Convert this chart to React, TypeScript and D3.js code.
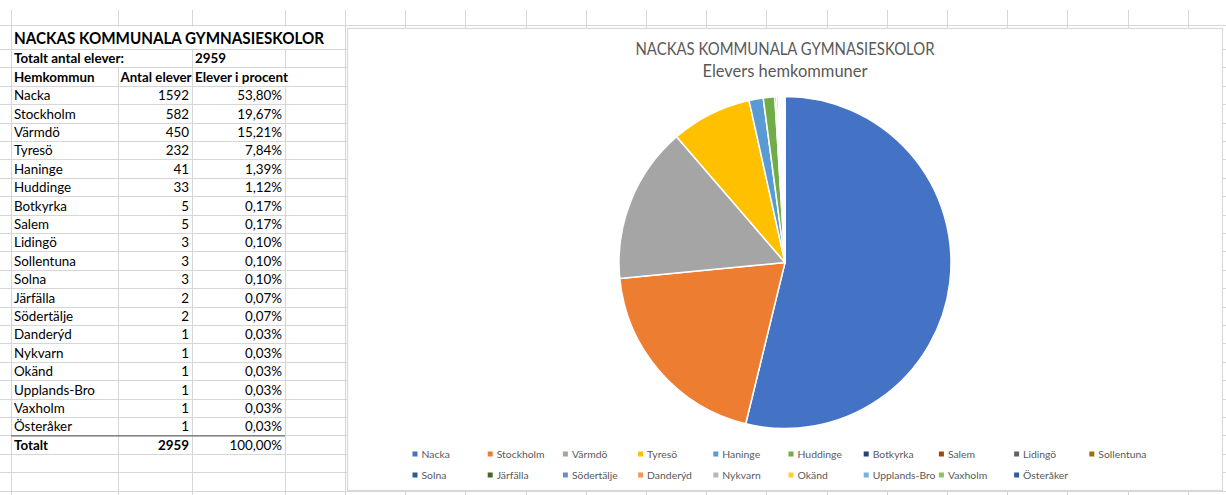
import React from "react";
import * as d3 from "d3";

const kommuner = ["Nacka","Stockholm","Värmdö","Tyresö","Haninge","Huddinge","Botkyrka","Salem","Lidingö","Sollentuna","Solna","Järfälla","Södertälje","Danderýd","Nykvarn","Okänd","Upplands-Bro","Vaxholm","Österåker"];
const antal = [1592,582,450,232,41,33,5,5,3,3,3,2,2,1,1,1,1,1,1];
const procent = ["53,80%","19,67%","15,21%","7,84%","1,39%","1,12%","0,17%","0,17%","0,10%","0,10%","0,10%","0,07%","0,07%","0,03%","0,03%","0,03%","0,03%","0,03%","0,03%"];
const colors = ["#4472C4","#ED7D31","#A5A5A5","#FFC000","#5B9BD5","#70AD47","#264478","#9E480E","#636363","#997300","#255E91","#43682B","#698ED0","#F1975A","#B7B7B7","#FFCD33","#7CAFDD","#8CC168","#335AA1"];
const total = 2959;
const chartTitle = "NACKAS KOMMUNALA GYMNASIESKOLOR";
const chartSubtitle = "Elevers hemkommuner";

const W = 1226, H = 495;
const FONT = "Lato, 'Open Sans', sans-serif";
const GRID = "#d6d6d6";

export default function App() {
  const rowH = 18.4;
  const row0 = 49;
  const rowY = (i: number) => row0 + i * rowH;
  const hLines: number[] = [25];
  for (let y = row0; y < H; y += rowH) hLines.push(y);
  const vLines: number[] = [11, 118, 192, 285, 345];
  for (let x = 345 + 60.2; x < W; x += 60.2) vLines.push(x);

  const hidden = [
    [118, 25, 49], [192, 25, 49], [285, 25, 49],
    [118, 49, rowY(1)],
    [285, rowY(1), rowY(2)],
  ];

  const pie = d3.pie<number>().sort(null).value((d) => d)(antal);
  const R = 166;
  const arc = d3.arc<d3.PieArcDatum<number>>().innerRadius(0).outerRadius(R);
  const cx = 785, cy = 262.5;

  const legX = d3.scaleLinear().domain([0, 1]).range([415, 415 + 75.2]);
  const legY = d3.scaleLinear().domain([0, 1]).range([454, 475]);

  const textRow = (i: number) => rowY(i) + rowH - 4;

  return (
    <svg width={W} height={H} style={{ position: "absolute", left: 0, top: 0, background: "#fff" }} fontFamily={FONT}>
      <rect x={0} y={0} width={W} height={H} fill="#fff" />
      {hLines.map((y, i) => (
        <line key={"h" + i} x1={0} x2={W} y1={Math.round(y) + 0.5} y2={Math.round(y) + 0.5} stroke={GRID} strokeWidth={1} />
      ))}
      {vLines.map((x, i) => (
        <line key={"v" + i} x1={Math.round(x) + 0.5} x2={Math.round(x) + 0.5} y1={10} y2={H} stroke={GRID} strokeWidth={1} />
      ))}
      {hidden.map((s, i) => (
        <rect key={"hid" + i} x={Math.round(s[0]) - 1} y={Math.round(s[1]) + 1.5} width={3} height={Math.round(s[2]) - Math.round(s[1]) - 1.5} fill="#fff" />
      ))}

      <text x={14} y={44} fontSize={17} fontWeight="bold" fill="#000" textLength={310} lengthAdjust="spacingAndGlyphs">NACKAS KOMMUNALA GYMNASIESKOLOR</text>
      <g fontSize={13.4} fill="#000">
        <text x={14} y={textRow(0)} fontWeight="bold">Totalt antal elever:</text>
        <text x={195} y={textRow(0)} fontWeight="bold">{String(total)}</text>
        <text x={14} y={textRow(1)} fontWeight="bold">Hemkommun</text>
        <text x={120.5} y={textRow(1)} fontWeight="bold" textLength={71} lengthAdjust="spacingAndGlyphs">Antal elever</text>
        <text x={195} y={textRow(1)} fontWeight="bold" textLength={93} lengthAdjust="spacingAndGlyphs">Elever i procent</text>
        {kommuner.map((k, i) => (
          <g key={k}>
            <text x={14} y={textRow(i + 2)}>{k}</text>
            <text x={189} y={textRow(i + 2)} textAnchor="end">{antal[i]}</text>
            <text x={282} y={textRow(i + 2)} textAnchor="end">{procent[i]}</text>
          </g>
        ))}
        <text x={14} y={textRow(21)} fontWeight="bold">Totalt</text>
        <text x={189} y={textRow(21)} textAnchor="end" fontWeight="bold">{String(d3.sum(antal))}</text>
        <text x={282} y={textRow(21)} textAnchor="end">100,00%</text>
      </g>
      <line x1={11} x2={285} y1={rowY(21) + 0.5} y2={rowY(21) + 0.5} stroke="#6a6a6a" strokeWidth={1.3} />

      <rect x={347.5} y={28.5} width={875} height={462} fill="#fff" stroke="#d9d9d9" strokeWidth={1.2} />
      <text x={cx} y={54.5} textAnchor="middle" fontSize={17} fill="#595959" textLength={299} lengthAdjust="spacingAndGlyphs">{chartTitle}</text>
      <text x={cx} y={76.5} textAnchor="middle" fontSize={17} fill="#595959" textLength={165} lengthAdjust="spacingAndGlyphs">{chartSubtitle}</text>
      <g transform={`translate(${cx},${cy})`}>
        {pie.map((p, i) => (
          <path key={i} d={arc(p) || ""} fill={colors[i]} stroke="#fff" strokeWidth={1.5} strokeLinejoin="round" />
        ))}
      </g>
      <g fontSize={10.4} fill="#595959">
        {kommuner.map((k, i) => {
          const col = i % 10, row = Math.floor(i / 10);
          const x = legX(col), y = legY(row);
          return (
            <g key={"l" + k}>
              <rect x={x - 2.5} y={y - 2.5} width={5} height={5} fill={colors[i]} />
              <text x={x + 6.5} y={y + 4}>{k}</text>
            </g>
          );
        })}
      </g>
    </svg>
  );
}
